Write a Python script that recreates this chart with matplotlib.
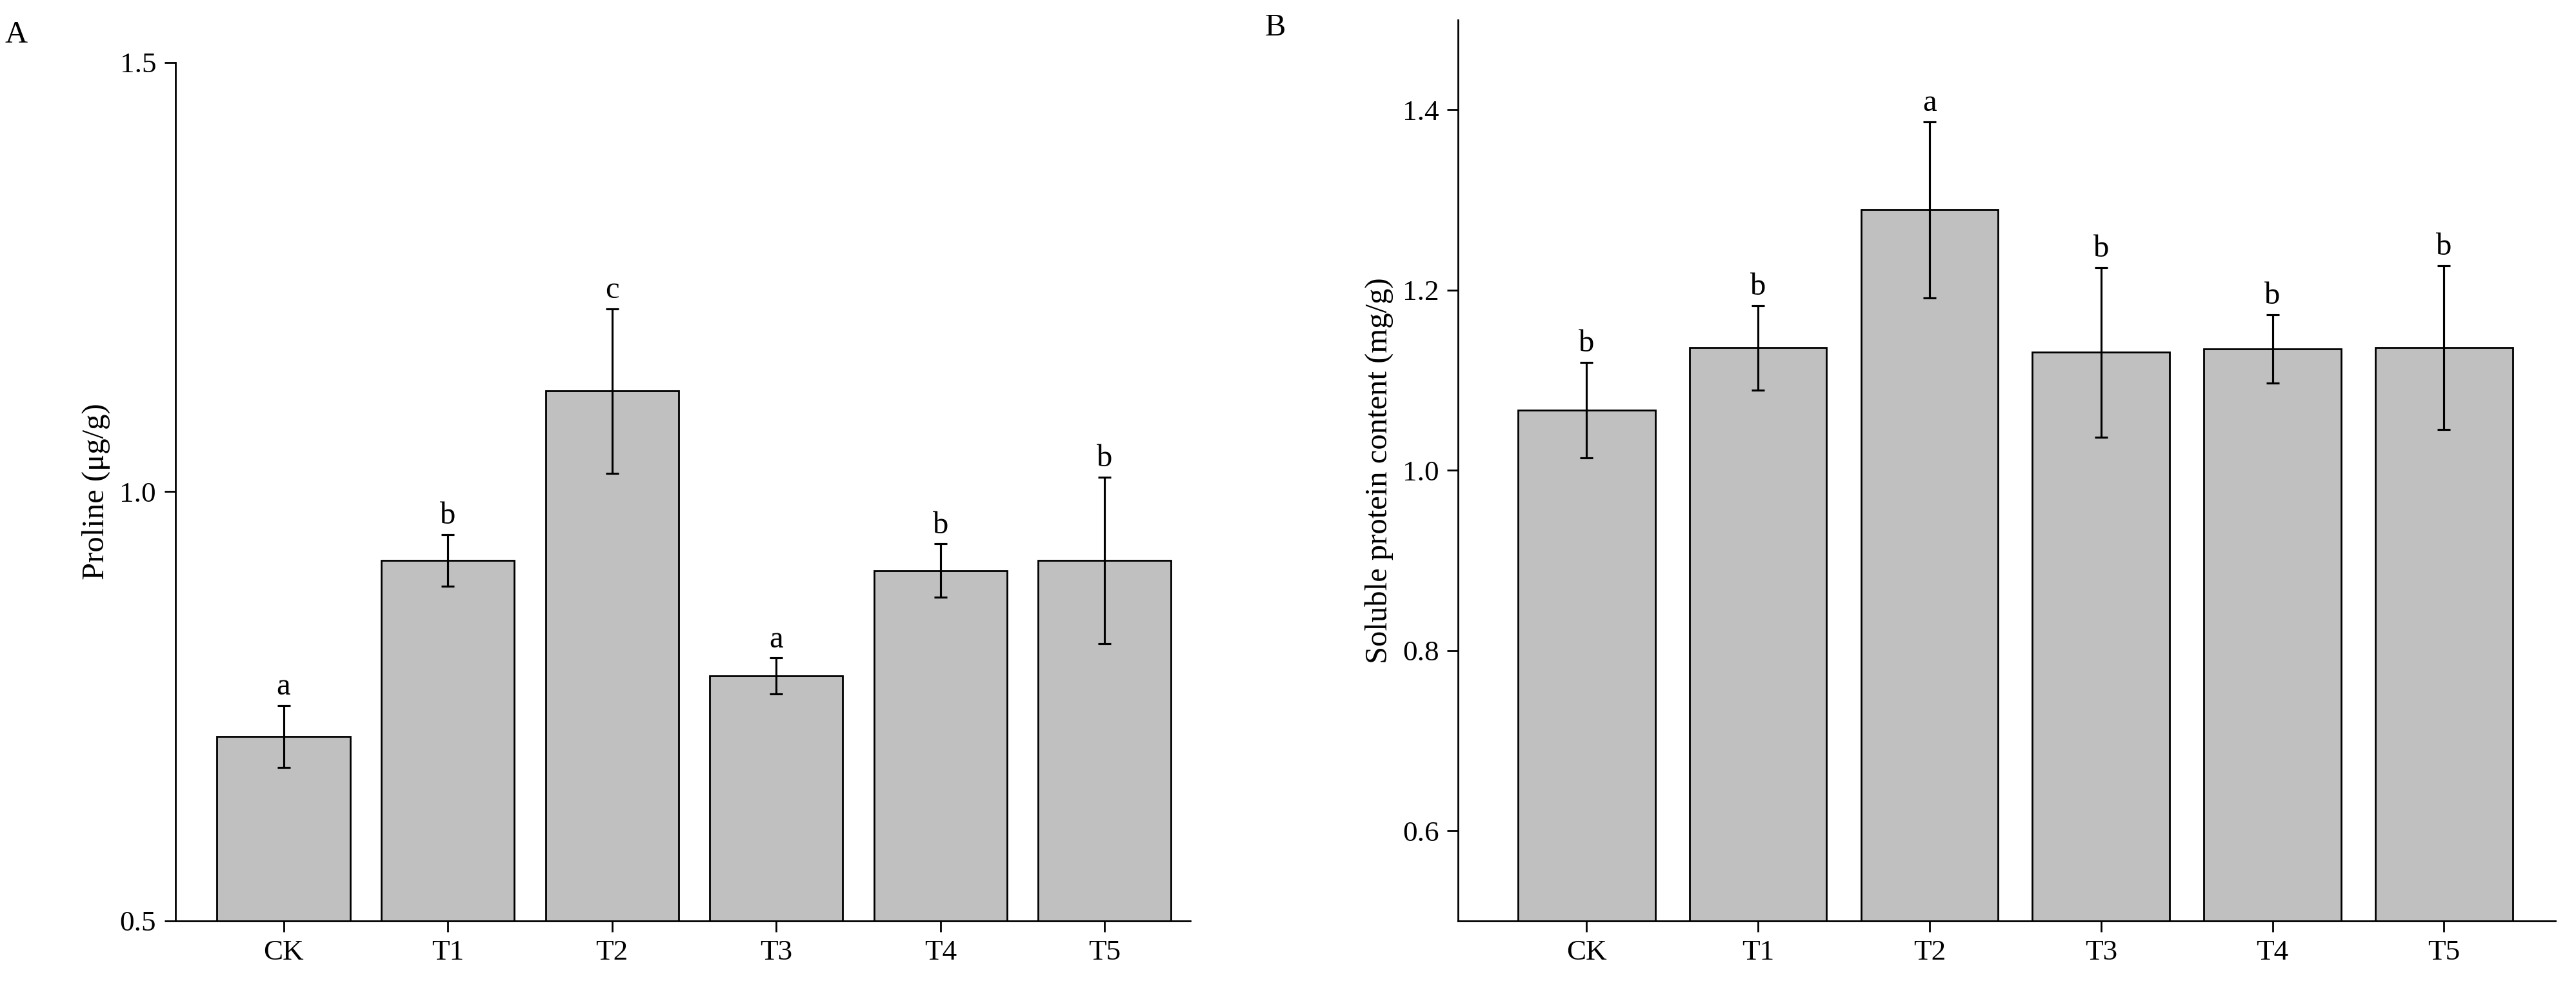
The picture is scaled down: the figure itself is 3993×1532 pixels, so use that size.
import matplotlib
matplotlib.use("Agg")
import matplotlib.pyplot as plt

plt.rcParams['font.family'] = ['Liberation Serif', 'DejaVu Serif']
plt.rcParams['font.size'] = 13

groups = ['CK', 'T1', 'T2', 'T3', 'T4', 'T5']

proline = [0.715, 0.92, 1.117, 0.785, 0.908, 0.92]
proline_err = [0.036, 0.03, 0.096, 0.021, 0.031, 0.097]
proline_sig = ['a', 'b', 'c', 'a', 'b', 'b']

protein = [1.067, 1.136, 1.289, 1.131, 1.135, 1.136]
protein_err = [0.053, 0.047, 0.098, 0.094, 0.038, 0.091]
protein_sig = ['b', 'b', 'a', 'b', 'b', 'b']

fig = plt.figure(figsize=(15.972, 6.128), dpi=250)
axA = fig.add_axes([0.068, 0.068, 0.394, 0.869])
axB = fig.add_axes([0.566, 0.068, 0.426, 0.912])


def panel(ax, vals, errs, sig, ylim, yticks, ylabel, xlim, width, off):
    x = range(len(groups))
    ax.bar(x, vals, width=width, color='#c0c0c0', edgecolor='black', linewidth=0.8,
           yerr=errs, error_kw=dict(ecolor='black', elinewidth=0.9, capsize=3, capthick=0.9),
           zorder=2)
    for i, (v, e, s) in enumerate(zip(vals, errs, sig)):
        ax.text(i, v + e + off, s, ha='center', va='bottom', fontsize=14)
    ax.set_ylim(*ylim)
    ax.set_xlim(*xlim)
    ax.set_yticks(yticks)
    ax.set_xticks(list(x))
    ax.set_xticklabels(groups)
    ax.set_ylabel(ylabel, fontsize=14)
    for s in ['top', 'right']:
        ax.spines[s].set_visible(False)
    ax.tick_params(direction='out', length=5, width=0.8)


panel(axA, proline, proline_err, proline_sig, (0.5, 1.5), [0.5, 1.0, 1.5],
      'Proline (μg/g)', (-0.66, 5.52), 0.81, 0.005)
axA.set_yticklabels(['0.5', '1.0', '1.5'])
panel(axB, protein, protein_err, protein_sig, (0.5, 1.5), [0.6, 0.8, 1.0, 1.2, 1.4],
      'Soluble protein content (mg/g)', (-0.75, 5.65), 0.8, 0.005)

fig.text(0.002, 0.965, 'A', fontsize=14, va='center')
fig.text(0.491, 0.972, 'B', fontsize=14, va='center')

fig.savefig('out.png')
